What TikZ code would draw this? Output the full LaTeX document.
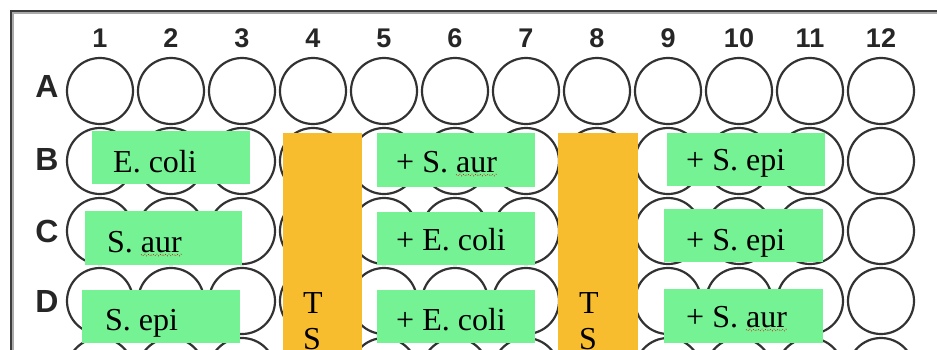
\documentclass[tikz,border=0pt]{standalone}
\usepackage{fontspec}
\setmainfont{Liberation Serif}
\newfontfamily\platesans{Liberation Sans}
\usetikzlibrary{decorations.pathmorphing}

\definecolor{wellgreen}{RGB}{117,242,148}
\definecolor{tsorange}{RGB}{248,189,47}
\definecolor{wellline}{RGB}{50,50,50}
\definecolor{framedark}{RGB}{60,60,60}
\definecolor{framelight}{RGB}{170,170,170}

\begin{document}
\begin{tikzpicture}[x=1pt,y=-1pt,
  well/.style={draw=wellline, line width=2.2pt},
  colnum/.style={anchor=base, inner sep=0pt, font=\platesans\bfseries\fontsize{27}{30}\selectfont, text=black!85},
  rowlet/.style={anchor=base, inner sep=0pt, font=\platesans\bfseries\fontsize{32}{36}\selectfont, text=black!85},
  label/.style={anchor=base west, inner sep=0pt, font=\fontsize{32}{38}\selectfont},
  greenbox/.style={fill=wellgreen},
  tsbar/.style={fill=tsorange},
  spell/.style={draw=red!85!black, line width=0.7pt, dotted,
    decorate, decoration={snake, segment length=3pt, amplitude=0.9pt}}]

\useasboundingbox (0,0) rectangle (937,349);
\clip (0,0) rectangle (937,349);

% plate outline (top and left edges)
\draw[framelight, line width=2pt] (13,360) -- (13,13) -- (945,13);
\draw[framedark, line width=2pt] (11,360) -- (11,11) -- (945,11);

% column numbers
\foreach \c in {1,...,12}
  \node[colnum] (col\c) at ({100+71*(\c-1)},47) {\c};

% row letters
\node[rowlet] (rowA) at (47,97)  {A};
\node[rowlet] (rowB) at (47,170) {B};
\node[rowlet] (rowC) at (47,242) {C};
\node[rowlet] (rowD) at (47,312) {D};

% wells
\foreach \r in {0,...,4}
  \foreach \c in {1,...,12}
    \draw[well] ({100+71*(\c-1)},{91+70*\r}) circle (33);

% treatment columns
\fill[tsbar] (283,133) rectangle (362,360);
\fill[tsbar] (558,133) rectangle (638,360);
\node[label] (tsT1) at (303,313) {T};
\node[label] (tsS1) at (303,349) {S};
\node[label] (tsT2) at (579,313) {T};
\node[label] (tsS2) at (579,349) {S};

% columns 1-3
\fill[greenbox] (92,131) rectangle (250,184);
\fill[greenbox] (85,211) rectangle (242,265);
\fill[greenbox] (82,290) rectangle (240,343);
\node[label] (b1) at (113,172) {E. coli};
\node[label] (c1) at (107,252) {S. aur};
\node[label] (d1) at (105,330) {S. epi};

% columns 5-7
\fill[greenbox] (377,133) rectangle (535,187);
\fill[greenbox] (377,212) rectangle (535,265);
\fill[greenbox] (377,290) rectangle (535,343);
\node[label] (b5) at (396,172) {+ S. aur};
\node[label] (c5) at (396,250) {+ E. coli};
\node[label] (d5) at (396,330) {+ E. coli};

% columns 9-11
\fill[greenbox] (667,133) rectangle (825,186);
\fill[greenbox] (664,209) rectangle (823,262);
\fill[greenbox] (664,289) rectangle (823,343);
\node[label] (b9) at (686,170) {+ S. epi};
\node[label] (c9) at (686,250) {+ S. epi};
\node[label] (d9) at (686,327) {+ S. aur};

% spell-check underlines
\draw[spell] ([shift={(-41,3)}]c1.base east) -- ([shift={(0,3)}]c1.base east);
\draw[spell] ([shift={(-41,3)}]b5.base east) -- ([shift={(0,3)}]b5.base east);
\draw[spell] ([shift={(-41,3)}]d9.base east) -- ([shift={(0,3)}]d9.base east);
\end{tikzpicture}
\end{document}
